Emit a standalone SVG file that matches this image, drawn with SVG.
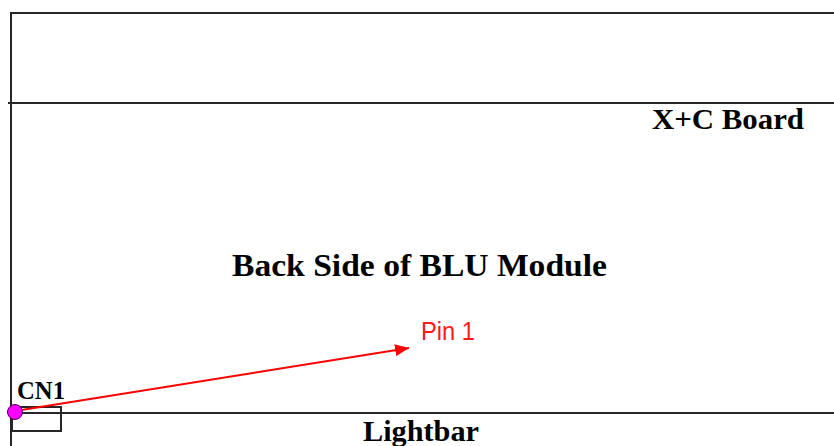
<svg xmlns="http://www.w3.org/2000/svg" width="834" height="446" viewBox="0 0 834 446">
<style>
.ln{stroke:#262626;stroke-width:2;fill:none}
.lbl{font-family:"Liberation Serif","Times New Roman",serif;font-weight:bold;fill:#000}
.pin{font-family:"Liberation Sans",Arial,sans-serif;fill:#ff1a1a}
</style>
<defs>
<marker id="ah" markerWidth="14" markerHeight="12" refX="14" refY="6" orient="auto" markerUnits="userSpaceOnUse">
<path d="M0,0 L14,6 L0,12 Z" fill="#ff0000"/>
</marker>
</defs>
<rect width="834" height="446" fill="#ffffff"/>
<g id="module">
<path class="ln" d="M11,446 V13 H834"/>
<text class="lbl" x="232" y="276" font-size="31" textLength="375" lengthAdjust="spacingAndGlyphs">Back Side of BLU Module</text>
</g>
<g id="xc-board">
<path class="ln" d="M8,103 H834"/>
<text class="lbl" x="652" y="129" font-size="30" textLength="152" lengthAdjust="spacingAndGlyphs">X+C Board</text>
</g>
<g id="lightbar">
<path class="ln" d="M11,413 H834"/>
<text class="lbl" x="363" y="441" font-size="29" textLength="116" lengthAdjust="spacingAndGlyphs">Lightbar</text>
</g>
<g id="cn1">
<rect class="ln" x="12" y="407" width="49" height="24"/>
<text class="lbl" x="17" y="399" font-size="25" textLength="48" lengthAdjust="spacingAndGlyphs">CN1</text>
</g>
<g id="connectors">
<line x1="15" y1="411" x2="409" y2="348" stroke="#ff0000" stroke-width="2" marker-end="url(#ah)"/>
</g>
<g id="pin1">
<circle cx="15" cy="412" r="7.5" fill="#ff00ff" stroke="#4a004a" stroke-width="1"/>
<text class="pin" x="421" y="340" font-size="25" textLength="54" lengthAdjust="spacingAndGlyphs">Pin 1</text>
</g>
</svg>
